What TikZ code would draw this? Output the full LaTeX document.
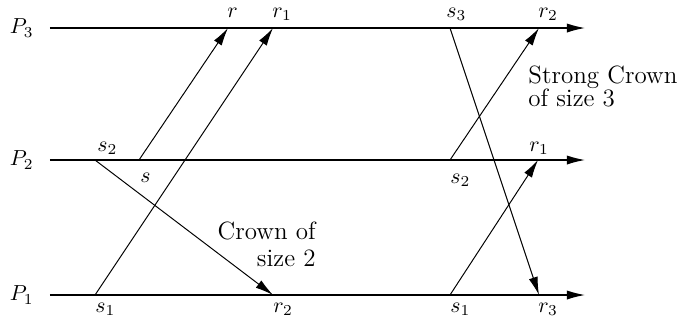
\documentclass[tikz,border=0pt]{standalone}
\usepackage{fontspec}
\usetikzlibrary{arrows.meta}

\begin{document}
\begin{tikzpicture}[x=0.46pt, y=-0.46pt,
		>={Latex[length=8.3pt,width=4.2pt]},
		proc/.style={line width=0.55pt, ->},
		msg/.style={line width=0.45pt, ->},
		lbl/.style={anchor=base west, inner sep=0pt},
		txt/.style={inner sep=0pt, font={\fontsize{11.5}{12.6}\selectfont\addfontfeatures{LetterSpace=6}}}]
		\useasboundingbox (0,0) rectangle (686,324);
		% processes
		\foreach \n/\y in {3/28, 2/160, 1/295}{
			\coordinate (a\n) at (50,\y);
			\coordinate (b\n) at (585,\y);
			\node[anchor=east, inner sep=0pt] (p\n) at (34,\y) {$P_\n$};
			\draw[proc] (a\n) -- (b\n);
		}
		% crown of size 2
		\coordinate (s) at (139,160);  \coordinate (r) at (228,28);
		\coordinate (s1) at (95,295);  \coordinate (r1) at (273,28);
		\coordinate (s2) at (95,160);  \coordinate (r2) at (273,295);
		% strong crown of size 3
		\coordinate (ss1) at (450,295); \coordinate (rr1) at (538,160);
		\coordinate (ss2) at (450,160); \coordinate (rr2) at (539,28);
		\coordinate (ss3) at (450,28);  \coordinate (rr3) at (539,295);
		\foreach \a/\b in {s/r, s1/r1, s2/r2, ss1/rr1, ss2/rr2, ss3/rr3}{
			\draw[msg] (\a) -- (\b);
		}
		% event labels
		\foreach \nm/\x/\y/\t in {lr/227/17/r, lr1/272/17/r_1, lss3/446/17/s_3, lrr2/538/17/r_2,
			ls2/97/151/s_2, lrr1/529/151/r_1, ls/140/182/s, lss2/450/183/s_2,
			ls1/95/312/s_1, lr2/273/312/r_2, lss1/450/312/s_1, lrr3/538/312/r_3}{
			\node[lbl] (\nm) at (\x,\y) {$\t$};
		}
		\node[txt, anchor=north east, align=right] (crown) at (316,221) {Crown of\\size 2};
		\node[txt, anchor=north west, align=left] (strong) at (528,65) {Strong Crown\\[-2pt]of size 3};
		%\draw[red] (0,0) rectangle (686,324);
	\end{tikzpicture}
\end{document}
